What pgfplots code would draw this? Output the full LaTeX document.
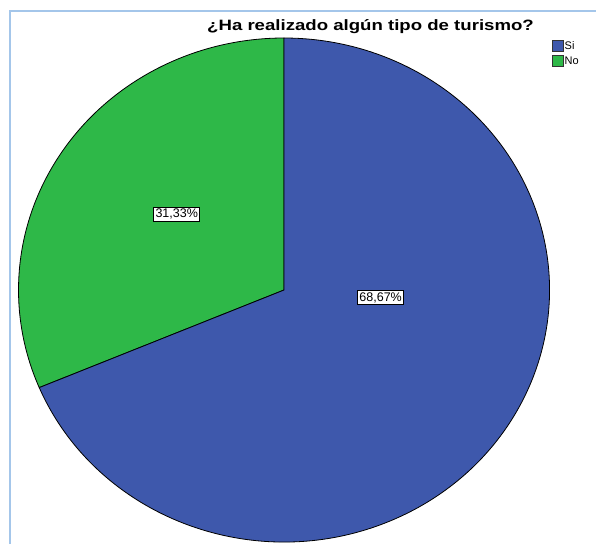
\documentclass[border=0pt]{standalone}
\usepackage{fontspec}
\setmainfont{Liberation Sans}
\usepackage{graphicx}
\usepackage{pgfplots}
\usepackage{pgfplotstable}
\pgfplotsset{compat=1.18}
\definecolor{siblue}{RGB}{62,88,172}
\definecolor{nogreen}{RGB}{46,184,72}
\definecolor{framecol}{RGB}{164,198,234}
\pgfplotstableread{
label value
Si 68.67
No 31.33
}\piedata
\begin{document}
\begin{tikzpicture}
\pgfplotstablegetelem{0}{value}\of\piedata \pgfmathsetmacro\vSi{\pgfplotsretval}
\pgfplotstablegetelem{1}{value}\of\piedata \pgfmathsetmacro\vNo{\pgfplotsretval}
\pgfmathsetmacro\aNo{90+3.6*\vNo}
\pgfmathsetmacro\aSi{\aNo+3.6*\vSi}
\path[use as bounding box] (0pt,0pt) rectangle (596pt,544pt);
\fill[white] (0pt,0pt) rectangle (596pt,544pt);
\draw[framecol, line width=1.3pt] (10pt,0pt) -- (10pt,533pt) -- (596pt,533pt);
\node[anchor=base, font=\bfseries\fontsize{15}{18}\selectfont, inner sep=0pt] at (370.5pt,513.5pt) {\scalebox{1.24}[1]{¿Ha realizado algún tipo de turismo?}};
\begin{axis}[at={(18.5pt,2pt)}, anchor=south west, scale only axis,
  width=531pt, height=504pt, xmin=-1, xmax=1, ymin=-1, ymax=1,
  hide axis, clip=false]
\fill[nogreen, draw=black, line width=0.8pt] (axis cs:0,0) -- (axis cs:0,1)
  arc[start angle=90, end angle=\aNo, x radius=1, y radius=1] -- cycle;
\fill[siblue, draw=black, line width=0.8pt] (axis cs:0,0) -- (axis cs:{cos(\aNo)},{sin(\aNo)})
  arc[start angle=\aNo, end angle=\aSi, x radius=1, y radius=1] -- cycle;
\node[draw=black, fill=white, inner sep=1.8pt, line width=0.6pt, font=\fontsize{12.5}{14}\selectfont]
  at (axis cs:-0.404,0.302) {\pgfmathprintnumber[assume math mode=true, fixed, fixed zerofill, precision=2, use comma]{\vNo}\%};
\node[draw=black, fill=white, inner sep=1.8pt, line width=0.6pt, font=\fontsize{12.5}{14}\selectfont]
  at (axis cs:0.364,-0.030) {\pgfmathprintnumber[assume math mode=true, fixed, fixed zerofill, precision=2, use comma]{\vSi}\%};
\end{axis}
\draw[fill=siblue, draw=black!80, line width=0.6pt] (552pt,493pt) rectangle (563pt,504pt);
\draw[fill=nogreen, draw=black!80, line width=0.6pt] (552pt,478pt) rectangle (563pt,489pt);
\node[anchor=west, inner sep=0pt, font=\fontsize{11}{13}\selectfont] at (564.5pt,498.5pt) {Si};
\node[anchor=west, inner sep=0pt, font=\fontsize{11}{13}\selectfont] at (564.5pt,483.5pt) {No};
\end{tikzpicture}
\end{document}
